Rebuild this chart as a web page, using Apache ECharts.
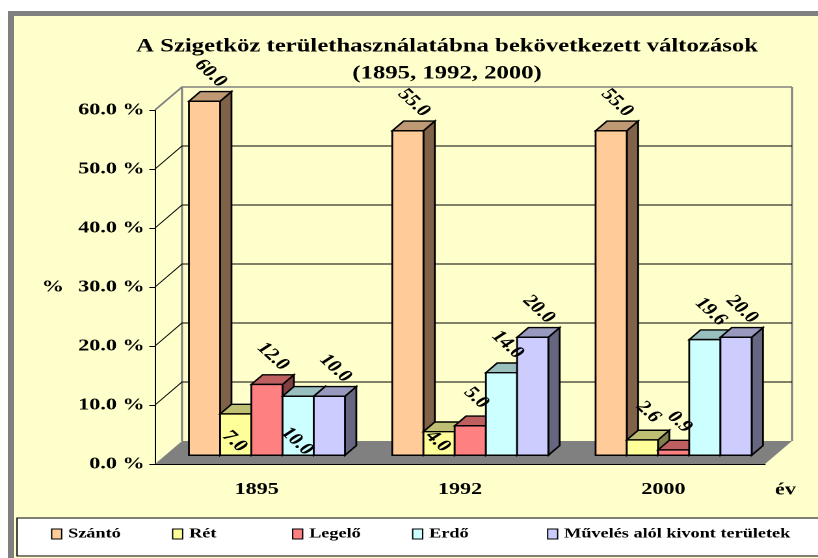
<!DOCTYPE html>
<html>
<head>
<meta charset="utf-8">
<script src="https://cdn.jsdelivr.net/npm/echarts/dist/echarts.min.js"></script>
<style>
  html, body { margin: 0; padding: 0; background: #fff; overflow: hidden; width: 818px; height: 558px; }
  * { scrollbar-width: none; }
  *::-webkit-scrollbar { display: none; width: 0; height: 0; }
  #frame { position: absolute; left: 8px; top: 11px; width: 810px; height: 547px; background: #808080; }
  #fill { position: absolute; left: 14px; top: 16px; width: 804px; height: 542px; background: #FFFFCC; }
  /* the original picture is an Excel chart stretched sideways, so the whole chart is stretched the same way */
  #main { position: absolute; left: 0; top: 0; width: 629px; height: 558px; transform: scaleX(1.3005); transform-origin: 0 0; }
</style>
</head>
<body>
<div id="frame"></div>
<div id="fill"></div>
<div id="main"></div>
<script>
var years = ['1895', '1992', '2000'];
var szanto = [60.0, 55.0, 55.0];
var ret = [7.0, 4.0, 2.6];
var legelo = [12.0, 5.0, 0.9];
var erdo = [10.0, 14.0, 19.6];
var muveles = [10.0, 20.0, 20.0];
var yTicks = [0, 10, 20, 30, 40, 50, 60];

var seriesNames = ['Szántó', 'Rét', 'Legelő', 'Erdő', 'Művelés alól kivont területek'];
var seriesValues = [szanto, ret, legelo, erdo, muveles];
var frontColors = ['#FFCC99', '#FFFF99', '#FF8080', '#CCFFFF', '#CCCCFF'];
var topColors = ['#BF9973', '#BFBF73', '#BF6060', '#99BFBF', '#9999BF'];
var sideColors = ['#7F6248', '#80804D', '#804040', '#668080', '#666680'];
// Excel dropped these labels down into the bar
var insideLabels = { 'Rét': [0, 1], 'Erdő': [0] };
// left edge of each legend entry in the original picture
var legendLeft = [51, 172, 292, 412, 547];

var FONT = 'Liberation Serif, Times New Roman, serif';
var S = 818 / 629;
var W = 629, H = 558;
// depth of the 3D box (floor goes back and up)
var DX = 27 / S, DY = -23;
var F0 = 0.38, F1 = 0.80;   // bar front / back depth
var BAR = 0.1535;            // one bar as part of the category band

var chart = echarts.init(document.getElementById('main'), null, { renderer: 'canvas', devicePixelRatio: 2 });

function renderWalls(params, api) {
    var cs = params.coordSys;
    var v = api.value(1);
    var y = api.coord([0, v])[1];
    var x0 = cs.x, x1 = cs.x + cs.width;
    var kids = [];
    if (v === 0) {
        var yTop = cs.y;
        kids.push({ type: 'polygon', shape: { points: [[x0, y], [x1, y], [x1 + DX, y + DY], [x0 + DX, y + DY]] },
            style: { fill: '#808080' } });
        kids.push({ type: 'polyline', shape: { points: [[x0 + DX, y + DY], [x0 + DX, yTop + DY]] },
            style: { stroke: '#808080', lineWidth: 1.6, fill: null } });
        kids.push({ type: 'polyline', shape: { points: [[x1 + DX, y + DY], [x1 + DX, yTop + DY]] },
            style: { stroke: '#808080', lineWidth: 1.6, fill: null } });
    } else {
        var isTop = v === yTicks[yTicks.length - 1];
        kids.push({ type: 'polyline', shape: { points: [[x0, y], [x0 + DX, y + DY], [x1 + DX, y + DY]] },
            style: { stroke: isTop ? '#808080' : '#000', lineWidth: isTop ? 1.6 : 0.9, fill: null } });
    }
    return { type: 'group', children: kids };
}

function renderBar(params, api) {
    var si = params.seriesIndex - 1;
    var name = seriesNames[si];
    var cat = api.value(0), val = api.value(1);
    var base = api.coord([cat, 0]);
    var top = api.coord([cat, val]);
    var band = api.size([1, 0])[0];
    var bw = band * BAR;
    var x1 = base[0] - 2.5 * bw + si * bw + F0 * DX;
    var x2 = x1 + bw;
    var yb = base[1] + F0 * DY;
    var yt = top[1] + F0 * DY;
    var ddx = (F1 - F0) * DX, ddy = (F1 - F0) * DY;
    var line = { stroke: '#000', lineWidth: 1.4 };
    var inside = (insideLabels[name] || []).indexOf(cat) >= 0;
    var lx = inside ? x1 + bw / 2 - 1 : x1 + bw / 2 + 4.6;
    var ly = inside ? yb - 14 : yt - 28;
    return {
        type: 'group',
        children: [
            { type: 'polygon', shape: { points: [[x2, yt], [x2 + ddx, yt + ddy], [x2 + ddx, yb + ddy], [x2, yb]] },
                style: Object.assign({ fill: sideColors[si] }, line) },
            { type: 'polygon', shape: { points: [[x1, yt], [x2, yt], [x2 + ddx, yt + ddy], [x1 + ddx, yt + ddy]] },
                style: Object.assign({ fill: topColors[si] }, line) },
            { type: 'rect', shape: { x: x1, y: yt, width: bw, height: yb - yt },
                style: Object.assign({ fill: frontColors[si] }, line) },
            { type: 'text', x: lx, y: ly, rotation: -50 * Math.PI / 180, z2: 100,
                style: { text: val.toFixed(1), fontFamily: FONT, fontSize: 17, fontWeight: 'bold',
                    fill: '#000', align: 'center', verticalAlign: 'middle' } }
        ]
    };
}

var series = [{
    type: 'custom',
    name: 'walls',
    z: 1,
    renderItem: renderWalls,
    data: yTicks.map(function (v) { return [0, v]; }),
    silent: true
}];
seriesNames.forEach(function (n, i) {
    series.push({
        type: 'custom',
        name: n,
        z: 2,
        renderItem: renderBar,
        itemStyle: { color: frontColors[i], borderColor: '#000', borderWidth: 1 },
        data: seriesValues[i].map(function (v, j) { return [j, v]; })
    });
});

// one legend per entry so the entries sit where Excel put them
var legends = seriesNames.map(function (n, i) {
    return {
        top: 527,
        left: legendLeft[i] / S,
        padding: 0,
        itemWidth: 10 / S,
        itemHeight: 10,
        itemGap: 0,
        icon: 'rect',
        itemStyle: { borderColor: '#000', borderWidth: 1 },
        textStyle: { fontFamily: FONT, fontSize: 14, fontWeight: 'bold', color: '#000' },
        data: [n]
    };
});

var option = {
    backgroundColor: 'transparent',
    animation: false,
    title: {
        text: 'A Szigetköz területhasználatábna bekövetkezett változások\n(1895, 1992, 2000)',
        left: 447 / S,
        textAlign: 'center',
        top: 33,
        padding: 0,
        textStyle: { fontFamily: FONT, fontSize: 19, fontWeight: 'bold', color: '#000', lineHeight: 27 }
    },
    graphic: [
        // legend box, open on the right like in the original
        { type: 'rect', shape: { x: 17 / S, y: 518, width: W, height: 38 },
            style: { fill: '#fff', stroke: '#000', lineWidth: 1 } },
        // x axis title sits below the axis end
        { type: 'text', x: 775 / S, y: 490,
            style: { text: 'év', fontFamily: FONT, fontSize: 17, fontWeight: 'bold', fill: '#000',
                align: 'left', verticalAlign: 'middle' } }
    ],
    legend: legends,
    grid: { left: 155 / S, right: 53 / S, top: 110, bottom: 94, containLabel: false },
    xAxis: {
        type: 'category',
        data: years,
        axisLine: { lineStyle: { color: '#000', width: 1 } },
        axisTick: { length: 7, lineStyle: { color: '#000' } },
        axisLabel: { margin: 17, fontFamily: FONT, fontSize: 17, fontWeight: 'bold', color: '#000' },
        splitLine: { show: false }
    },
    yAxis: {
        type: 'value',
        min: 0,
        max: 60,
        interval: 10,
        name: '%',
        nameLocation: 'middle',
        nameRotate: 0,
        nameGap: 70,
        nameTextStyle: { fontFamily: FONT, fontSize: 17, fontWeight: 'bold', color: '#000' },
        axisLine: { show: true, lineStyle: { color: '#000', width: 1 } },
        axisTick: { show: true, length: 4.4, lineStyle: { color: '#000' } },
        axisLabel: {
            margin: 8, fontFamily: FONT, fontSize: 17, fontWeight: 'bold', color: '#000',
            formatter: function (v) { return v.toFixed(1) + ' %'; }
        },
        splitLine: { show: false }
    },
    series: series
};

chart.setOption(option);
</script>
</body>
</html>
